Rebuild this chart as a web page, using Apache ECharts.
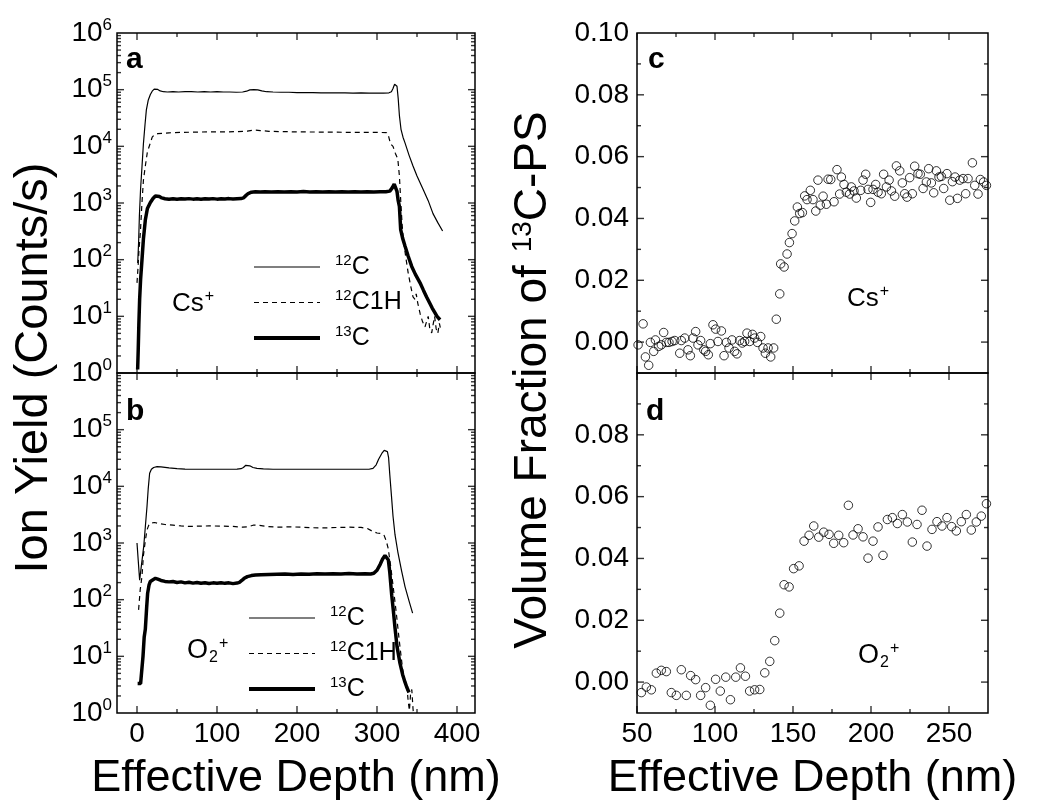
<!DOCTYPE html>
<html><head><meta charset="utf-8">
<script src="https://cdn.jsdelivr.net/npm/echarts@6.0.0/dist/echarts.min.js"></script>
<style>html,body{margin:0;padding:0;background:#fff}#chart{width:1037px;height:803px}</style>
</head><body><div id="chart"></div>
<script>
// ---------------- DATA ----------------
// Panel a (Cs+): [effective depth nm, counts/s]
const cs12C = [[0.9,87],[2,200],[3,600],[4.5,1800],[6.3,4500],[8,1.1e4],[10,2.4e4],[11.7,4.4e4],[14,6.5e4],[16.7,8.2e4],[19,9.4e4],[21.5,1.02e5],[23.5,1.04e5],[26,1.01e5],[29,9.5e4],[33,9.2e4],[38,9.1e4],[45,9.2e4],[52,9.1e4],[60,9.2e4],[68,9.2e4],[76,9.1e4],[84,9.2e4],[92,9.1e4],[100,9.2e4],[108,9.1e4],[116,9.1e4],[124,9.0e4],[132,9.1e4],[137,9.4e4],[141,9.9e4],[146,1.0e5],[151,9.9e4],[156,9.5e4],[162,9.2e4],[170,9.1e4],[180,9.0e4],[190,9.0e4],[200,8.9e4],[210,8.9e4],[220,8.9e4],[230,8.8e4],[240,8.8e4],[250,8.8e4],[260,8.8e4],[270,8.7e4],[280,8.8e4],[290,8.7e4],[300,8.7e4],[308,8.7e4],[315,8.8e4],[318,9.2e4],[320,1.05e5],[322,1.25e5],[323.5,1.32e5],[325,1.15e5],[326.5,7e4],[328,3.5e4],[330,2.0e4],[332.5,1.45e4],[335,1.15e4],[340,7000],[345,4500],[350,3000],[358,1700],[364,1100],[370,650],[376,450],[382,320]];
const cs12C1H = [[0,39],[1.2,70],[2.5,150],[4.2,300],[6,900],[8,2500],[10.4,4500],[13,8000],[16.7,1.15e4],[19,1.45e4],[21.7,1.6e4],[26,1.68e4],[32,1.7e4],[40,1.73e4],[55,1.76e4],[70,1.78e4],[90,1.8e4],[110,1.8e4],[125,1.82e4],[138,1.85e4],[146,1.95e4],[154,1.9e4],[165,1.84e4],[180,1.82e4],[200,1.8e4],[220,1.79e4],[240,1.78e4],[260,1.77e4],[280,1.77e4],[300,1.76e4],[312,1.75e4],[314.5,1.5e4],[317,1.1e4],[320,1.0e4],[323,7500],[326,6000],[328,3000],[330,900],[331.5,400],[333,220],[336,110],[339,58],[342,35],[345,22],[347.5,20],[349,25],[351,17],[354,11],[357,8],[360,6.5],[362,7],[364,10],[366,6],[368.4,5.1],[370,7],[372,10],[374,6],[376,5],[378,7.5],[380,5.5]];
const cs13C = [[0.8,1.15],[1.5,2.5],[2.3,7],[3.3,20],[4.5,45],[6.25,100],[8,230],[10.4,500],[13,800],[16.7,1020],[20,1200],[23,1330],[25.5,1360],[28,1300],[31,1230],[35,1190],[40,1170],[45,1190],[50,1165],[55,1185],[60,1175],[65,1195],[70,1170],[75,1185],[80,1165],[85,1190],[90,1175],[95,1195],[100,1170],[105,1185],[110,1180],[115,1195],[120,1175],[125,1185],[130,1195],[133,1230],[136,1350],[139,1470],[143,1550],[148,1580],[154,1560],[160,1585],[168,1565],[176,1585],[184,1560],[192,1580],[200,1570],[208,1590],[216,1565],[224,1580],[232,1570],[240,1585],[248,1565],[256,1580],[264,1570],[272,1585],[280,1565],[288,1580],[296,1570],[304,1585],[311,1575],[316,1620],[319,1850],[321.5,2150],[323.5,2050],[325,1600],[326.5,1100],[328,870],[329.6,340],[332,240],[335,175],[339,115],[343.4,76],[348,55],[353.8,39],[358,29],[362,22],[366,17],[369,14],[372.5,11.5],[375,10],[377,9.5],[378.8,8.7]];
// Panel b (O2+)
const o12C = [[0,1000],[1.5,500],[3.3,220],[5,350],[7,600],[8.5,900],[10.5,2000],[12.5,4400],[14,9000],[15.8,1.7e4],[18,2.0e4],[20.8,2.15e4],[25,2.22e4],[30,2.2e4],[40,2.12e4],[50,2.05e4],[60,2.02e4],[70,2.0e4],[85,2.0e4],[100,2.0e4],[115,2.0e4],[125,2.02e4],[130,2.05e4],[133,2.15e4],[136,2.35e4],[138,2.4e4],[141,2.3e4],[145,2.15e4],[150,2.07e4],[158,2.03e4],[170,2.0e4],[190,2.0e4],[210,2.0e4],[230,2.0e4],[250,2.0e4],[270,2.0e4],[290,2.0e4],[295,2.08e4],[299,2.4e4],[302,3.0e4],[306,3.8e4],[309,4.3e4],[311,4.45e4],[313,4.1e4],[314.5,3.2e4],[316,1.6e4],[318,7000],[320,3000],[322.5,1400],[326,700],[330.8,320],[335,170],[340,95],[344.5,58]];
const o12C1H = [[2,66],[4,150],[6.25,260],[8,600],[10.4,1100],[12.5,1700],[14.6,2050],[16.7,2250],[18.75,2350],[22,2300],[28,2200],[35,2120],[45,2060],[55,2000],[65,1960],[75,1980],[90,2000],[105,1990],[120,1960],[132,1900],[140,1950],[146,2080],[152,2050],[162,1960],[175,1900],[190,1930],[205,1900],[220,1860],[235,1850],[250,1880],[265,1900],[280,1880],[288,1800],[294,1620],[300,1500],[305,1480],[309,1350],[311.5,1100],[314,800],[317,400],[320,180],[324,60],[328,18],[332,6],[335,3.5],[337.4,2.9],[339,1.6],[340.5,1.1],[342,2.2],[343.5,2.6],[345,1.2],[346.5,0.7]];
const o13C = [[0.8,3.3],[2.5,3.3],[4.5,3.3],[6,3.4],[7.5,10],[9,22],[10.4,30],[12,70],[13.3,130],[15,180],[16.7,210],[20,225],[23,238],[26,230],[30,218],[35,210],[40,206],[45,209],[50,201],[55,206],[60,198],[65,203],[70,196],[75,201],[80,195],[85,199],[90,193],[95,198],[100,195],[105,199],[110,194],[115,198],[120,192],[125,196],[128,202],[131,218],[134,238],[138,255],[143,266],[148,272],[155,276],[165,279],[175,282],[185,284],[195,279],[205,285],[215,281],[225,287],[235,283],[245,286],[255,284],[265,289],[275,284],[285,287],[292,283],[296,292],[300,330],[304,420],[307,520],[310,600],[312.5,580],[314.2,500],[316,300],[318.4,120],[320.4,65],[322.5,32],[325,15],[328.75,7.5],[332,4.8],[335,3.5],[337,2.9],[340,2.3]];
// Panel c (Cs+): [effective depth nm, volume fraction]
const csFrac = [[50.7,-0.0009],[53.9,0.0059],[55.4,-0.0048],[57.5,-0.0075],[58.6,-0.0001],[60.7,-0.0030],[61.8,0.0007],[63.9,-0.0014],[65.6,-0.0009],[67.1,0.0031],[68.8,-0.0001],[70.5,-0.0001],[72.5,0.0002],[74.2,0.0005],[77.4,-0.0036],[78.4,0.0005],[80.6,0.0013],[82.7,-0.0025],[84.2,-0.0044],[85.9,0.0013],[87.6,0.0034],[89.1,-0.0009],[90.8,0.0005],[92.8,-0.0025],[94.0,-0.0030],[95.7,-0.0041],[97.0,-0.0005],[98.7,0.0056],[100.4,0.0042],[101.9,0.0002],[104.1,0.0036],[105.8,-0.0044],[107.3,-0.0001],[109.0,-0.0019],[110.9,0.0007],[112.6,-0.0030],[114.1,-0.0038],[115.8,0.0005],[117.5,-0.0003],[119.0,0.0002],[120.5,0.0029],[122.2,0.0002],[124.0,0.0025],[125.4,0.0013],[127.2,-0.0001],[129.3,0.0018],[130.8,-0.0019],[132.3,-0.0036],[134.0,-0.0019],[135.7,-0.0048],[137.6,-0.0019],[139.3,0.0074],[141.5,0.0156],[142.1,0.0253],[144.3,0.0243],[146.2,0.0285],[147.7,0.0322],[149.4,0.0351],[151.1,0.0392],[152.8,0.0437],[154.3,0.0416],[156.0,0.0419],[157.5,0.0473],[159.0,0.0461],[161.1,0.0491],[162.8,0.0461],[164.6,0.0424],[166.0,0.0524],[167.5,0.0443],[169.3,0.0472],[171.4,0.0446],[172.5,0.0527],[174.2,0.0526],[176.3,0.0454],[178.2,0.0558],[179.9,0.0479],[181.0,0.0534],[182.7,0.0510],[184.2,0.0485],[186.3,0.0479],[187.4,0.0502],[189.1,0.0489],[190.6,0.0466],[193.4,0.0491],[194.9,0.0524],[196.6,0.0543],[198.1,0.0494],[199.8,0.0452],[201.3,0.0494],[203.0,0.0510],[204.5,0.0485],[206.6,0.0480],[208.1,0.0543],[209.9,0.0502],[211.6,0.0524],[213.1,0.0489],[215.2,0.0472],[216.3,0.0570],[218.4,0.0554],[220.1,0.0515],[221.6,0.0480],[223.1,0.0469],[224.8,0.0532],[226.5,0.0480],[228.0,0.0569],[230.1,0.0545],[231.6,0.0543],[233.4,0.0497],[235.5,0.0518],[237.0,0.0561],[238.7,0.0515],[240.2,0.0483],[241.9,0.0554],[243.6,0.0534],[245.1,0.0536],[246.6,0.0497],[248.7,0.0545],[250.5,0.0459],[252.2,0.0519],[253.9,0.0534],[255.4,0.0465],[256.9,0.0524],[259.0,0.0529],[260.7,0.0480],[262.2,0.0529],[265.0,0.0580],[266.5,0.0507],[268.6,0.0479],[270.1,0.0526],[272.2,0.0518],[274.0,0.0507]];
// Panel d (O2+)
const oFrac = [[52.8,-0.0034],[56.0,-0.0016],[59.2,-0.0025],[62.4,0.0029],[65.6,0.0038],[68.8,0.0034],[72.0,-0.0034],[75.2,-0.0043],[78.4,0.0040],[81.6,-0.0043],[84.4,0.0021],[87.6,0.0008],[90.8,-0.0043],[94.0,-0.0018],[97.0,-0.0075],[100.4,0.0009],[103.4,-0.0029],[106.9,0.0016],[109.9,-0.0057],[113.3,0.0016],[116.3,0.0046],[119.5,0.0019],[122.2,-0.0029],[125.4,-0.0025],[128.7,-0.0024],[131.9,0.0030],[135.1,0.0067],[138.3,0.0134],[141.5,0.0223],[144.3,0.0315],[147.5,0.0308],[150.4,0.0367],[153.9,0.0376],[157.1,0.0456],[160.3,0.0475],[163.3,0.0505],[166.5,0.0469],[169.7,0.0485],[173.1,0.0478],[176.1,0.0449],[179.3,0.0475],[182.5,0.0451],[185.5,0.0572],[188.5,0.0476],[191.7,0.0496],[194.9,0.0470],[198.1,0.0401],[201.3,0.0456],[204.5,0.0502],[207.7,0.0410],[210.5,0.0526],[213.7,0.0532],[216.9,0.0513],[220.1,0.0542],[223.3,0.0518],[226.5,0.0453],[229.5,0.0510],[232.7,0.0556],[235.9,0.0440],[239.1,0.0494],[242.3,0.0519],[245.5,0.0505],[248.7,0.0532],[251.7,0.0503],[254.7,0.0489],[257.9,0.0519],[261.1,0.0542],[264.3,0.0492],[267.5,0.0518],[270.7,0.0537],[274.0,0.0577]];

// Tick values
const depthMajorLeft = [0, 100, 200, 300, 400];
const depthMinorLeft = [50, 150, 250, 350];
const depthMajorRight = [50, 100, 150, 200, 250];
const depthMinorRight = [75, 125, 175, 225];
const fracMajor = [0, 0.02, 0.04, 0.06, 0.08];
const fracLabelsC = [0, 0.02, 0.04, 0.06, 0.08, 0.10];
const fracLabelsD = [0, 0.02, 0.04, 0.06, 0.08];
const fracMinor = [0.01, 0.03, 0.05, 0.07, 0.09];
const logMajor = [10, 100, 1000, 10000, 100000];
const logDecades = [0, 1, 2, 3, 4, 5];
const logMinorMantissa = [2, 3, 4, 5, 6, 7, 8, 9];
const logMinor = [];
logDecades.forEach(k => logMinorMantissa.forEach(m => logMinor.push(m * Math.pow(10, k))));

// ---------------- CHART ----------------
const FONT = "'Liberation Sans', Arial, Helvetica, sans-serif";
const BLACK = '#000';
const MAJOR_LEN = 7, MINOR_LEN = 4, TICK_W = 1.4;
const xAxis = [], yAxis = [];

function hiddenAxis(gi, type, min, max, position) {
  return {type, gridIndex: gi, min, max, position, silent: true, nameMoveOverlap: false,
    splitLine: {show: false}, axisLine: {show: false, onZero: false},
    axisTick: {show: false}, axisLabel: {show: false}};
}

function buildPanel(gi, xc, yc) {
  const xm = hiddenAxis(gi, 'value', xc.min, xc.max, 'bottom');
  xm.axisLabel = {show: !!xc.labels, customValues: xc.labels || xc.major, fontSize: 28, margin: 7, color: BLACK, fontFamily: FONT};
  if (xc.name) {
    xm.name = xc.name; xm.nameLocation = 'middle'; xm.nameGap = 43;
    xm.nameTextStyle = {fontSize: 45, color: BLACK, fontFamily: FONT};
  }
  xAxis.push(xm);
  const ym = hiddenAxis(gi, yc.type, yc.min, yc.max, 'left');
  ym.axisLabel = {show: true, fontSize: 28, margin: yc.margin, color: BLACK, fontFamily: FONT,
    formatter: yc.formatter, rich: {sup: {fontSize: 17, padding: [0, 0, 16, 0], color: BLACK, fontFamily: FONT}}};
  if (yc.labels) ym.axisLabel.customValues = yc.labels;
  yAxis.push(ym);
  return {xi: xAxis.length - 1, yi: yAxis.length - 1, xc, yc};
}

const logFmt = hideTop => v => {
  const e = Math.round(Math.log10(v));
  if (hideTop && e === 6) return '';
  return '10{sup|' + e + '}';
};
const fracFmt = v => v.toFixed(2);

const frame = {show: true, borderColor: BLACK, borderWidth: 1.5, backgroundColor: 'rgba(0,0,0,0)'};
const grid = [
  Object.assign({left: 117, top: 33, width: 358, height: 340}, frame),
  Object.assign({left: 117, top: 373, width: 358, height: 340}, frame),
  Object.assign({left: 637, top: 33, width: 351, height: 340}, frame),
  Object.assign({left: 637, top: 373, width: 351, height: 340}, frame),
  {left: 117, top: 28, width: 358, height: 680, show: false},
  {left: 637, top: 40, width: 351, height: 680, show: false}
].map(g => Object.assign(g, {containLabel: false, outerBoundsMode: 'none'}));

const leftX = {min: -25, max: 422.5, major: depthMajorLeft, minor: depthMinorLeft};
const rightX = {min: 50, max: 275, major: depthMajorRight, minor: depthMinorRight};

const A = buildPanel(0, Object.assign({}, leftX, {labels: null}),
  {type: 'log', min: 1, max: 1e6, major: logMajor, minor: logMinor, margin: 5, formatter: logFmt(false)});
const B = buildPanel(1, Object.assign({}, leftX, {labels: depthMajorLeft, name: 'Effective Depth (nm)'}),
  {type: 'log', min: 1, max: 1e6, major: logMajor, minor: logMinor, margin: 5, formatter: logFmt(true)});
const C = buildPanel(2, Object.assign({}, rightX, {labels: null}),
  {type: 'value', min: -0.01, max: 0.1, major: fracMajor, minor: fracMinor, labels: fracLabelsC, margin: 8, formatter: fracFmt});
const D = buildPanel(3, Object.assign({}, rightX, {labels: depthMajorRight, name: 'Effective Depth (nm)'}),
  {type: 'value', min: -0.01, max: 0.1, major: fracMajor, minor: fracMinor, labels: fracLabelsD, margin: 8, formatter: fracFmt});

// Title-only axes spanning both rows
xAxis.push(hiddenAxis(4, 'value', 0, 1, 'bottom'));
const yTitleL = hiddenAxis(4, 'value', 0, 1, 'left');
Object.assign(yTitleL, {name: 'Ion Yield (Counts/s)', nameLocation: 'middle', nameGap: 59,
  nameTextStyle: {fontSize: 47, color: BLACK, fontFamily: FONT}});
yAxis.push(yTitleL);
xAxis.push(hiddenAxis(5, 'value', 0, 1, 'bottom'));
const yTitleR = hiddenAxis(5, 'value', 0, 1, 'left');
Object.assign(yTitleR, {name: 'Volume Fraction of {sup|13}C-PS', nameLocation: 'middle', nameGap: 80,
  nameTextStyle: {fontSize: 46, color: BLACK, fontFamily: FONT,
    rich: {sup: {fontSize: 28, padding: [0, 0, 20, 0], color: BLACK, fontFamily: FONT}}}});
yAxis.push(yTitleR);

// Inside tick marks on all four sides: thin rect symbols placed through the axis scales
function tickSeries(P) {
  const xc = P.xc, yc = P.yc, data = [];
  const xt = (v, len) => {
    data.push({value: [v, yc.min], symbolSize: [TICK_W, len], symbolOffset: [0, -len / 2]});
    data.push({value: [v, yc.max], symbolSize: [TICK_W, len], symbolOffset: [0, len / 2]});
  };
  const yt = (v, len) => {
    data.push({value: [xc.min, v], symbolSize: [len, TICK_W], symbolOffset: [len / 2, 0]});
    data.push({value: [xc.max, v], symbolSize: [len, TICK_W], symbolOffset: [-len / 2, 0]});
  };
  xc.major.forEach(v => xt(v, MAJOR_LEN));
  xc.minor.forEach(v => xt(v, MINOR_LEN));
  yc.major.forEach(v => yt(v, MAJOR_LEN));
  yc.minor.forEach(v => yt(v, MINOR_LEN));
  return {type: 'scatter', name: 'axis ticks', xAxisIndex: P.xi, yAxisIndex: P.yi, silent: true, clip: false,
    z: 6, symbol: 'rect', symbolKeepAspect: false, data, itemStyle: {color: BLACK, borderWidth: 0},
    emphasis: {disabled: true}};
}

const legendNames = ['12C', '12C1H', '13C'];
const legendLabels = {'12C': '{sup|12}C', '12C1H': '{sup|12}C1H', '13C': '{sup|13}C'};
const legendWidths = {'12C': 1.2, '12C1H': 1.2, '13C': 4};
function makeLegend(left, top) {
  return {orient: 'vertical', left, top, padding: 0, itemWidth: 66, itemHeight: 14, itemGap: 9,
    selectedMode: false, inactiveColor: BLACK,
    data: legendNames.map(n => ({name: n, itemStyle: {opacity: 0}, lineStyle: {width: legendWidths[n]}})),
    formatter: n => legendLabels[n],
    textStyle: {fontSize: 25, color: BLACK, fontFamily: FONT,
      rich: {sup: {fontSize: 15, padding: [0, 0, 13, 10], color: BLACK, fontFamily: FONT}}}};
}

function label(text, left, top, size, bold, rich) {
  return {text, left, top, padding: 0, textStyle: {fontSize: size, fontWeight: bold ? 'bold' : 'normal',
    color: BLACK, fontFamily: FONT, rich: rich || {}}};
}
const supRich = {sup: {fontSize: 16, padding: [0, 0, 14, 1], color: BLACK, fontFamily: FONT},
                 sub: {fontSize: 16, padding: [14, 0, 0, 1], color: BLACK, fontFamily: FONT}};

function lineSeries(name, data, ax, width, dashed, z) {
  return {type: 'line', name, data, xAxisIndex: ax.xi, yAxisIndex: ax.yi, symbol: 'none', showSymbol: false,
    lineStyle: {color: BLACK, width, type: dashed ? [5, 4] : 'solid'}, itemStyle: {color: BLACK},
    emphasis: {disabled: true}, silent: true, z};
}
function scatterSeries(name, data, ax) {
  return {type: 'scatter', name, data, xAxisIndex: ax.xi, yAxisIndex: ax.yi, symbol: 'circle', symbolSize: 8.5,
    itemStyle: {color: 'rgba(0,0,0,0)', borderColor: BLACK, borderWidth: 1},
    emphasis: {disabled: true}, silent: true};
}

const option = {
  animation: false,
  backgroundColor: '#fff',
  textStyle: {fontFamily: FONT, color: BLACK},
  grid, xAxis, yAxis,
  title: [
    label('a', 126, 45, 30, true),
    label('b', 126, 397, 30, true),
    label('c', 648, 45, 30, true),
    label('d', 646, 397, 30, true),
    label('Cs{sup|+}', 172, 289, 26, false, supRich),
    label('O{sub|2}{sup|+}', 187, 636, 27, false, supRich),
    label('Cs{sup|+}', 847, 284, 26, false, supRich),
    label('O{sub|2}{sup|+}', 858, 641, 27, false, supRich)
  ],
  legend: [makeLegend(252, 253), makeLegend(247, 604)],
  series: [
    lineSeries('12C', cs12C, A, 1.2, false, 3),
    lineSeries('12C1H', cs12C1H, A, 1.2, true, 3),
    lineSeries('13C', cs13C, A, 3.5, false, 4),
    lineSeries('12C', o12C, B, 1.2, false, 3),
    lineSeries('12C1H', o12C1H, B, 1.2, true, 3),
    lineSeries('13C', o13C, B, 3.5, false, 4),
    scatterSeries('Cs+ fraction', csFrac, C),
    scatterSeries('O2+ fraction', oFrac, D),
    tickSeries(A), tickSeries(B), tickSeries(C), tickSeries(D)
  ]
};
const chart = echarts.init(document.getElementById('chart'), null, {renderer: 'canvas'});
chart.setOption(option);
</script></body></html>
